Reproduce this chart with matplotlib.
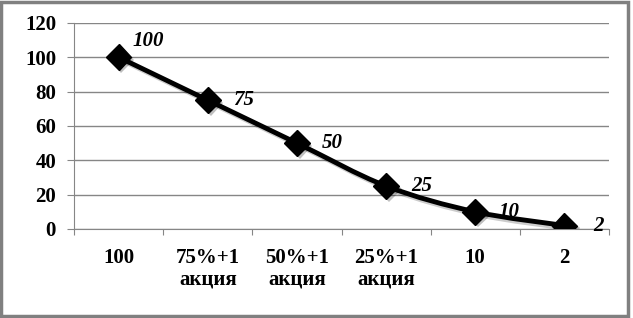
import matplotlib.pyplot as plt
import matplotlib.patheffects as pe
from matplotlib.path import Path
from matplotlib.patches import PathPatch, Rectangle
import numpy as np

categories = ['100', '75%+1\nакция', '50%+1\nакция', '25%+1\nакция', '10', '2']
values = [100, 75, 50, 25, 10, 2]
yticks = [0, 20, 40, 60, 80, 100, 120]

plt.rcParams['font.family'] = ['Liberation Serif', 'DejaVu Serif']

fig = plt.figure(figsize=(6.33, 3.18), dpi=100)
ax = fig.add_axes([0.117, 0.280, 0.845, 0.648])

x = np.arange(len(values))
y = np.array(values, dtype=float)

# smoothed line (Excel style bezier through the points)
verts = [(x[0], y[0])]
codes = [Path.MOVETO]
for i in range(len(x) - 1):
    p0 = (x[max(i - 1, 0)], y[max(i - 1, 0)])
    p1 = (x[i], y[i])
    p2 = (x[i + 1], y[i + 1])
    p3 = (x[min(i + 2, len(x) - 1)], y[min(i + 2, len(x) - 1)])
    c1 = (p1[0] + (p2[0] - p0[0]) / 6, p1[1] + (p2[1] - p0[1]) / 6)
    c2 = (p2[0] - (p3[0] - p1[0]) / 6, p2[1] - (p3[1] - p1[1]) / 6)
    verts += [c1, c2, p2]
    codes += [Path.CURVE4] * 3
shadow = [pe.SimpleLineShadow(offset=(2, -2), shadow_color='k', alpha=0.2), pe.Normal()]
line = PathPatch(Path(verts, codes), fill=False, edgecolor='black', lw=3.5, zorder=3,
                 path_effects=shadow)
ax.add_patch(line)
ax.plot(x, y, linestyle='none', marker='D', markersize=13, color='black', zorder=4,
        path_effects=[pe.SimplePatchShadow(offset=(2, -2), alpha=0.25), pe.Normal()])

offsets = [(10, 12), (18, 0), (18, 0), (18, 0), (17, 0), (21, 0)]
for xi, yi, off in zip(x, values, offsets):
    ax.annotate(str(yi), (xi, yi), xytext=off, textcoords='offset points',
                ha='left', va='center', fontsize=15, fontweight='bold', style='italic')

ax.set_xlim(-0.5, len(values) - 0.5)
ax.set_ylim(0, 120)
ax.set_yticks(yticks)
ax.set_yticklabels([str(t) for t in yticks], fontsize=15, fontweight='bold')
ax.set_xticks(np.arange(-0.5, len(values), 1.0))
ax.set_xticklabels([])
ax.set_xticks(x, minor=True)
ax.set_xticklabels(categories, minor=True, fontsize=15, fontweight='bold', linespacing=1.1)
ax.tick_params(axis='x', which='minor', length=0, pad=14)
ax.tick_params(axis='x', which='major', length=4, color='#868686', direction='out')
ax.tick_params(axis='y', length=5, color='#868686', pad=8)
ax.yaxis.grid(True, color='#868686', lw=1)
ax.set_axisbelow(True)
for s in ['top', 'right']:
    ax.spines[s].set_visible(False)
for s in ['left', 'bottom']:
    ax.spines[s].set_color('#868686')

# outer frame
fig.patches.append(Rectangle((0.002, 0.006), 0.99, 0.988, transform=fig.transFigure,
                             fill=False, edgecolor='#808080', lw=2.5))

plt.savefig('out.png', dpi=100)
